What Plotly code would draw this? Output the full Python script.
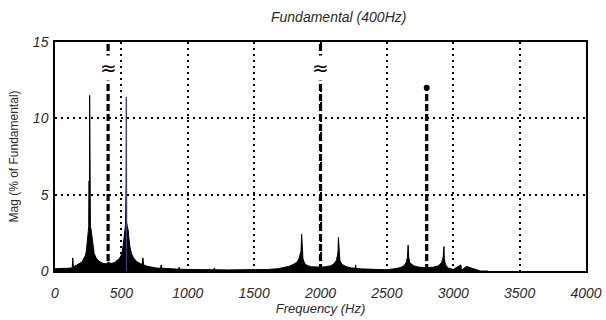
import plotly.graph_objects as go

# ---- data ----
spec_freq = [0, 20, 60, 100, 125, 130, 134, 138, 150, 170, 190, 205, 218, 228, 236, 242, 246, 250, 254, 257, 259, 261, 263,
             267, 272, 278, 285, 295, 310, 330, 355, 378, 392, 398, 402, 410, 428, 450, 470, 485, 497, 506, 514, 520,
             526, 531, 536, 538, 540, 545, 551, 556, 564, 576, 592, 615, 640, 656, 662, 668, 690, 720, 760, 795, 800,
             805, 850, 900, 932, 935, 938, 1000, 1050, 1100, 1195, 1200, 1205, 1300, 1400, 1500, 1600, 1680, 1720,
             1760, 1800, 1825, 1840, 1848, 1853, 1858, 1862, 1868, 1880, 1900, 1930, 1970, 2000, 2040, 2080, 2105,
             2120, 2127, 2132, 2135, 2139, 2146, 2160, 2190, 2230, 2262, 2265, 2268, 2300, 2400, 2500, 2560, 2600,
             2630, 2648, 2655, 2660, 2665, 2672, 2700, 2740, 2800, 2850, 2890, 2912, 2924, 2930, 2933, 2940, 2960,
             3000, 3057, 3060, 3063, 3100, 3197, 3200, 3203, 3260, 3400, 4000]
spec_mag = [0.15, 0.15, 0.15, 0.18, 0.2, 0.25, 0.86, 0.3, 0.32, 0.4, 0.52, 0.62, 0.8, 1.0, 1.3, 1.8, 2.5, 2.8, 2.9, 5.9,
            3.2, 11.5, 3.0, 2.9, 2.7, 2.2, 1.6, 1.15, 0.85, 0.65, 0.52, 0.47, 0.5, 0.6, 0.6, 0.52, 0.5, 0.56, 0.68,
            0.82, 1.0, 1.25, 1.7, 2.3, 2.8, 3.0, 5.7, 11.4, 3.2, 2.9, 2.7, 2.2, 1.6, 1.15, 0.85, 0.62, 0.48, 0.42,
            0.86, 0.4, 0.32, 0.26, 0.2, 0.18, 0.4, 0.18, 0.15, 0.13, 0.12, 0.25, 0.12, 0.1, 0.1, 0.08, 0.08, 0.2,
            0.08, 0.07, 0.07, 0.08, 0.1, 0.15, 0.22, 0.3, 0.45, 0.6, 0.85, 1.1, 1.3, 2.4, 1.2, 0.8, 0.5, 0.36, 0.28,
            0.25, 0.25, 0.28, 0.35, 0.5, 0.7, 1.0, 1.25, 2.2, 1.1, 0.7, 0.45, 0.3, 0.2, 0.18, 0.4, 0.16, 0.14, 0.1,
            0.08, 0.15, 0.22, 0.35, 0.6, 0.9, 1.7, 0.9, 0.55, 0.35, 0.25, 0.22, 0.25, 0.35, 0.55, 0.9, 1.6, 0.8,
            0.45, 0.2, 0.1, 0.4, 0.1, 0.06, 0.3, 0.06, 0.03, 0.0, 0.0]

harm_freq = [400, 2000, 2800]       # fundamental, 5th, 7th
harm_mag = [100, 15.5, 12]          # % of fundamental (first two off-scale)
harm_breaks = [True, True, False]   # drawn with a scale-break symbol

blue_freq = [538]
blue_mag = [11.4]

x_ticks = [0, 500, 1000, 1500, 2000, 2500, 3000, 3500, 4000]
y_ticks = [0, 5, 10, 15]

Y_MAX = 15
FONT = "Liberation Sans"
TXT = "#2a2a2a"

fig = go.Figure()

# spectrum (filled black stems)
fig.add_trace(go.Scatter(x=spec_freq, y=spec_mag, mode="lines", fill="tozeroy",
                         line=dict(color="black", width=1), fillcolor="black",
                         hoverinfo="skip", showlegend=False))

# bluish spike
bx, by = [], []
for f, m in zip(blue_freq, blue_mag):
    bx += [f, f, None]
    by += [0, m, None]
fig.add_trace(go.Scatter(x=bx, y=by, mode="lines", line=dict(color="#3a3f8f", width=1.2),
                         hoverinfo="skip", showlegend=False))

# harmonic dashed lines
hx, hy = [], []
mx, my = [], []
for f, m, brk in zip(harm_freq, harm_mag, harm_breaks):
    top = min(m, Y_MAX)
    hx += [f, f, None]
    hy += [0, top, None]
    if not brk:
        mx.append(f)
        my.append(m)
fig.add_trace(go.Scatter(x=hx, y=hy, mode="lines", line=dict(color="black", width=3.2, dash="7px,3px"),
                         hoverinfo="skip", showlegend=False))
fig.add_trace(go.Scatter(x=mx, y=my, mode="markers", marker=dict(color="black", size=6),
                         hoverinfo="skip", showlegend=False))

for f, brk in zip(harm_freq, harm_breaks):
    if brk:
        fig.add_annotation(x=f, y=13.3, text="≈", showarrow=False,
                           font=dict(family="DejaVu Sans", size=20, color="black"),
                           bgcolor="white", borderpad=0)

fig.add_annotation(xref="paper", yref="paper", x=0.533, y=1.11, yanchor="middle",
                   text="Fundamental (400Hz)",
                   showarrow=False, font=dict(family=FONT, size=14, color=TXT, style="italic"))

axis_common = dict(showline=True, linecolor="black", linewidth=1.5, mirror=True,
                   showgrid=True, gridcolor="black", gridwidth=2.4, griddash="2px,4px",
                   zeroline=False, ticks="", automargin=False,
                   tickfont=dict(family=FONT, size=14, color=TXT, style="italic"))

fig.update_xaxes(range=[0, 4000], tickvals=x_ticks, ticktext=[str(t) for t in x_ticks],
                 ticklabelstandoff=8,
                 title=dict(text="Frequency (Hz)", standoff=3,
                            font=dict(family=FONT, size=13, color=TXT, style="italic")),
                 **axis_common)
fig.update_yaxes(range=[0, Y_MAX], tickvals=y_ticks, ticktext=[str(t) for t in y_ticks],
                 ticklabelstandoff=2,
                 title=dict(text="Mag (% of Fundamental)", standoff=12,
                            font=dict(family=FONT, size=12, color=TXT)),
                 **axis_common)

fig.update_layout(width=606, height=320, margin=dict(l=54.5, r=20, t=42, b=48.5),
                  plot_bgcolor="white", paper_bgcolor="white", showlegend=False)

fig.write_html("out.html", config={"displayModeBar": False},
               post_script="document.body.style.margin='0';")
